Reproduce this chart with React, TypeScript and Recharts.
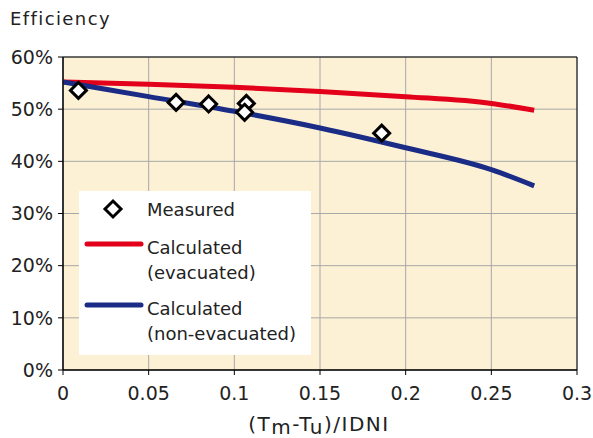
import React from "react";
import {
  ComposedChart,
  Line,
  Scatter,
  XAxis,
  YAxis,
  CartesianGrid,
  ReferenceArea,
} from "recharts";

const xTicks = [0, 0.05, 0.1, 0.15, 0.2, 0.25, 0.3];
const yTicks = [0, 10, 20, 30, 40, 50, 60];

const evacuatedX = [0, 0.05, 0.1, 0.15, 0.2, 0.25, 0.275];
const evacuatedY = [55.2, 54.8, 54.2, 53.4, 52.4, 51.1, 49.8];

const nonEvacX = [0, 0.05, 0.1, 0.15, 0.2, 0.25, 0.275];
const nonEvacY = [55.2, 52.4, 49.6, 46.4, 42.6, 38.4, 35.3];

const measuredX = [0.009, 0.066, 0.085, 0.107, 0.106, 0.186];
const measuredY = [53.6, 51.3, 51.0, 51.1, 49.4, 45.4];

const RED = "#E2001A";
const BLUE = "#1B2C86";
const BG = "#FDF1D5";
const FONT = "'DejaVu Sans', sans-serif";

const evacuated = evacuatedX.map((x, i) => ({ x, y: evacuatedY[i] }));
const nonEvac = nonEvacX.map((x, i) => ({ x, y: nonEvacY[i] }));
const measured = measuredX.map((x, i) => ({ x, y: measuredY[i] }));

const Diamond = (props: any) => {
  const { cx, cy } = props;
  const r = 8;
  return (
    <path
      d={`M${cx},${cy - r}L${cx + r},${cy}L${cx},${cy + r}L${cx - r},${cy}Z`}
      fill="#fff"
      stroke="#000"
      strokeWidth={3}
      strokeLinejoin="miter"
    />
  );
};

const XLabel = () => (
  <text
    x={319}
    y={431}
    textAnchor="middle"
    fontSize={20}
    fontFamily={FONT}
    fill="#222"
    letterSpacing={1.5}
  >
    (T<tspan dy={3}>m</tspan>
    <tspan dy={-3}>-T</tspan>
    <tspan dy={3}>u</tspan>
    <tspan dy={-3}>)/IDNI</tspan>
  </text>
);

const LegendBox = () => (
  <svg
    width={232}
    height={164}
    style={{ position: "absolute", left: 79, top: 191 }}
    fontFamily={FONT}
    fontSize={18}
    fill="#222"
  >
    <rect x={0} y={0} width={232} height={164} fill="#fff" />
    <path d="M34,10L42,18L34,26L26,18Z" fill="#fff" stroke="#000" strokeWidth={3} />
    <text x={68} y={25}>Measured</text>
    <line x1={8} y1={53} x2={62} y2={53} stroke={RED} strokeWidth={5} strokeLinecap="round" />
    <text x={68} y={63}>Calculated</text>
    <text x={68} y={88}>(evacuated)</text>
    <line x1={8} y1={114} x2={62} y2={114} stroke={BLUE} strokeWidth={5} strokeLinecap="round" />
    <text x={68} y={124}>Calculated</text>
    <text x={68} y={149}>(non-evacuated)</text>
  </svg>
);

export default function App() {
  return (
    <div style={{ position: "relative", width: 593, height: 438, background: "#fff", fontFamily: FONT }}>
      <style>{"body{margin:0}"}</style>
      <div
        style={{
          position: "absolute",
          left: 10,
          top: 8,
          fontSize: 18,
          letterSpacing: 1.4,
          color: "#222",
          zIndex: 2,
        }}
      >
        Efficiency
      </div>
      <ComposedChart
        width={593}
        height={438}
        margin={{ top: 57, right: 16, bottom: 0, left: 0 }}
      >
        <CartesianGrid
          stroke="#A8A8A8"
          strokeWidth={1}
          fill={BG}
          horizontalValues={yTicks}
          verticalValues={xTicks}
        />
        <XAxis
          type="number"
          dataKey="x"
          domain={[0, 0.3]}
          ticks={xTicks}
          height={68}
          tickSize={5}
          tickMargin={12}
          stroke="#000"
          tick={{ fontSize: 19, fill: "#222", fontFamily: FONT }}
          allowDataOverflow
        />
        <YAxis
          type="number"
          dataKey="y"
          domain={[0, 60]}
          ticks={yTicks}
          width={63}
          tickSize={5}
          tickMargin={5}
          stroke="#000"
          tickFormatter={(v) => `${v}%`}
          tick={{ fontSize: 19, fill: "#222", fontFamily: FONT }}
        />
        <ReferenceArea x1={0} x2={0.3} y1={0} y2={60} fill="none" stroke="#000" strokeWidth={1} />
        <Line
          data={evacuated}
          dataKey="y"
          stroke={RED}
          strokeWidth={5}
          dot={false}
          type="monotone"
          isAnimationActive={false}
        />
        <Line
          data={nonEvac}
          dataKey="y"
          stroke={BLUE}
          strokeWidth={5}
          dot={false}
          type="monotone"
          isAnimationActive={false}
        />
        <Scatter data={measured} dataKey="y" shape={Diamond} isAnimationActive={false} />
        <XLabel />
      </ComposedChart>
      <LegendBox />
    </div>
  );
}
